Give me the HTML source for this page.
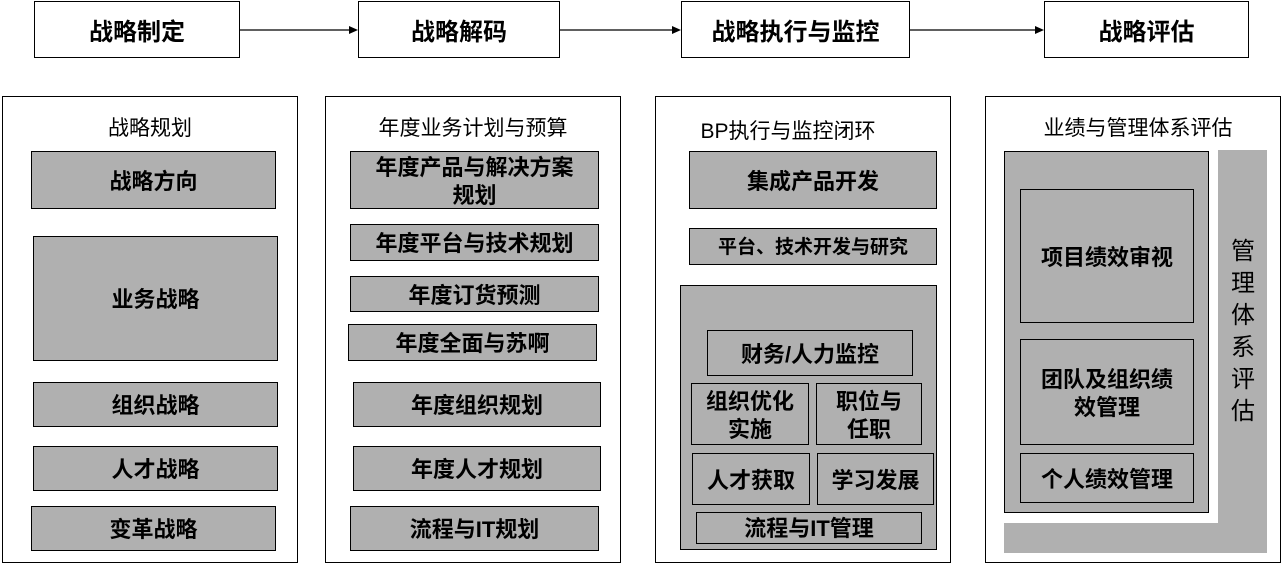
<!DOCTYPE html>
<html><head><meta charset="utf-8"><style>
*{margin:0;padding:0;box-sizing:border-box}
body{width:1288px;height:564px;background:#fff;position:relative;overflow:hidden;font-family:"Liberation Sans","Noto Sans CJK SC","WenQuanYi Zen Hei",sans-serif;color:#000}
.a{position:absolute;display:flex;align-items:center;justify-content:center;text-align:center}
.t{border:1.5px solid #000;background:#fff;font-size:24px;font-weight:bold}
.p{position:absolute;border:1.5px solid #000;background:#fff}
.h{position:absolute;font-size:21px;text-align:center}
.g{border:1.5px solid #000;background:#b0b0b0;font-size:22px;font-weight:bold;line-height:1.25;padding-top:3px}
</style></head><body>
<div class="a t" style="left:34px;top:1px;width:206px;height:57px">战略制定</div>
<div class="a t" style="left:358px;top:1px;width:202px;height:57px">战略解码</div>
<div class="a t" style="left:681px;top:1px;width:229px;height:57px">战略执行与监控</div>
<div class="a t" style="left:1044px;top:1px;width:205px;height:57px">战略评估</div>
<svg style="position:absolute;left:0;top:0" width="1288" height="60">
<g stroke="#000" stroke-width="1.3"><line x1="240" y1="30" x2="352" y2="30"/><line x1="560" y1="30" x2="675" y2="30"/><line x1="910" y1="30" x2="1038" y2="30"/></g>
<g fill="#000"><polygon points="358,30 349,26 349,34"/><polygon points="681,30 672,26 672,34"/><polygon points="1044,30 1035,26 1035,34"/></g>
</svg>

<div class="p" style="left:2px;top:96px;width:296px;height:467px"></div>
<div class="h" style="left:2px;top:112px;width:296px">战略规划</div>
<div class="a g" style="left:31px;top:151px;width:245px;height:58px">战略方向</div>
<div class="a g" style="left:33px;top:236px;width:245px;height:125px;padding-bottom:0">业务战略</div>
<div class="a g" style="left:33px;top:382px;width:245px;height:45px">组织战略</div>
<div class="a g" style="left:33px;top:446px;width:245px;height:45px">人才战略</div>
<div class="a g" style="left:31px;top:506px;width:245px;height:45px">变革战略</div>

<div class="p" style="left:325px;top:96px;width:296px;height:467px"></div>
<div class="h" style="left:325px;top:112px;width:296px">年度业务计划与预算</div>
<div class="a g" style="left:350px;top:151px;width:249px;height:58px">年度产品与解决方案<br>规划</div>
<div class="a g" style="left:350px;top:224px;width:249px;height:37px">年度平台与技术规划</div>
<div class="a g" style="left:350px;top:276px;width:249px;height:36px">年度订货预测</div>
<div class="a g" style="left:348px;top:324px;width:249px;height:37px">年度全面与苏啊</div>
<div class="a g" style="left:353px;top:382px;width:248px;height:45px">年度组织规划</div>
<div class="a g" style="left:353px;top:446px;width:248px;height:45px">年度人才规划</div>
<div class="a g" style="left:350px;top:506px;width:249px;height:45px">流程与IT规划</div>

<div class="p" style="left:655px;top:96px;width:296px;height:467px"></div>
<div class="h" style="left:655px;top:115px;width:296px;padding-right:30px">BP执行与监控闭环</div>
<div class="a g" style="left:689px;top:151px;width:248px;height:58px">集成产品开发</div>
<div class="a g" style="left:689px;top:228px;width:248px;height:37px;font-size:19px">平台、技术开发与研究</div>
<div class="a g" style="left:680px;top:285px;width:257px;height:265px"></div>
<div class="a g" style="left:707px;top:330px;width:206px;height:46px">财务/人力监控</div>
<div class="a g" style="left:691px;top:383px;width:118px;height:62px">组织优化<br>实施</div>
<div class="a g" style="left:816px;top:383px;width:106px;height:62px">职位与<br>任职</div>
<div class="a g" style="left:692px;top:453px;width:118px;height:52px">人才获取</div>
<div class="a g" style="left:817px;top:453px;width:117px;height:52px">学习发展</div>
<div class="a g" style="left:696px;top:512px;width:226px;height:32px;padding-top:1px">流程与IT管理</div>

<div class="p" style="left:985px;top:96px;width:296px;height:467px"></div>
<div class="h" style="left:985px;top:112px;width:296px;padding-left:10px">业绩与管理体系评估</div>
<div style="position:absolute;left:1004px;top:150px;width:263px;height:403px;background:#b0b0b0"></div>
<div style="position:absolute;left:1004px;top:150px;width:214px;height:373px;background:#fff"></div>
<div class="a g" style="left:1004px;top:151px;width:205px;height:362px"></div>
<div class="a g" style="left:1020px;top:189px;width:174px;height:134px">项目绩效审视</div>
<div class="a g" style="left:1020px;top:339px;width:174px;height:106px">团队及组织绩<br>效管理</div>
<div class="a g" style="left:1020px;top:453px;width:174px;height:50px">个人绩效管理</div>
<div class="a" style="left:1222px;top:234px;width:42px;height:196px;font-size:24px;line-height:32px;flex-direction:column">管<br>理<br>体<br>系<br>评<br>估</div>
</body></html>
